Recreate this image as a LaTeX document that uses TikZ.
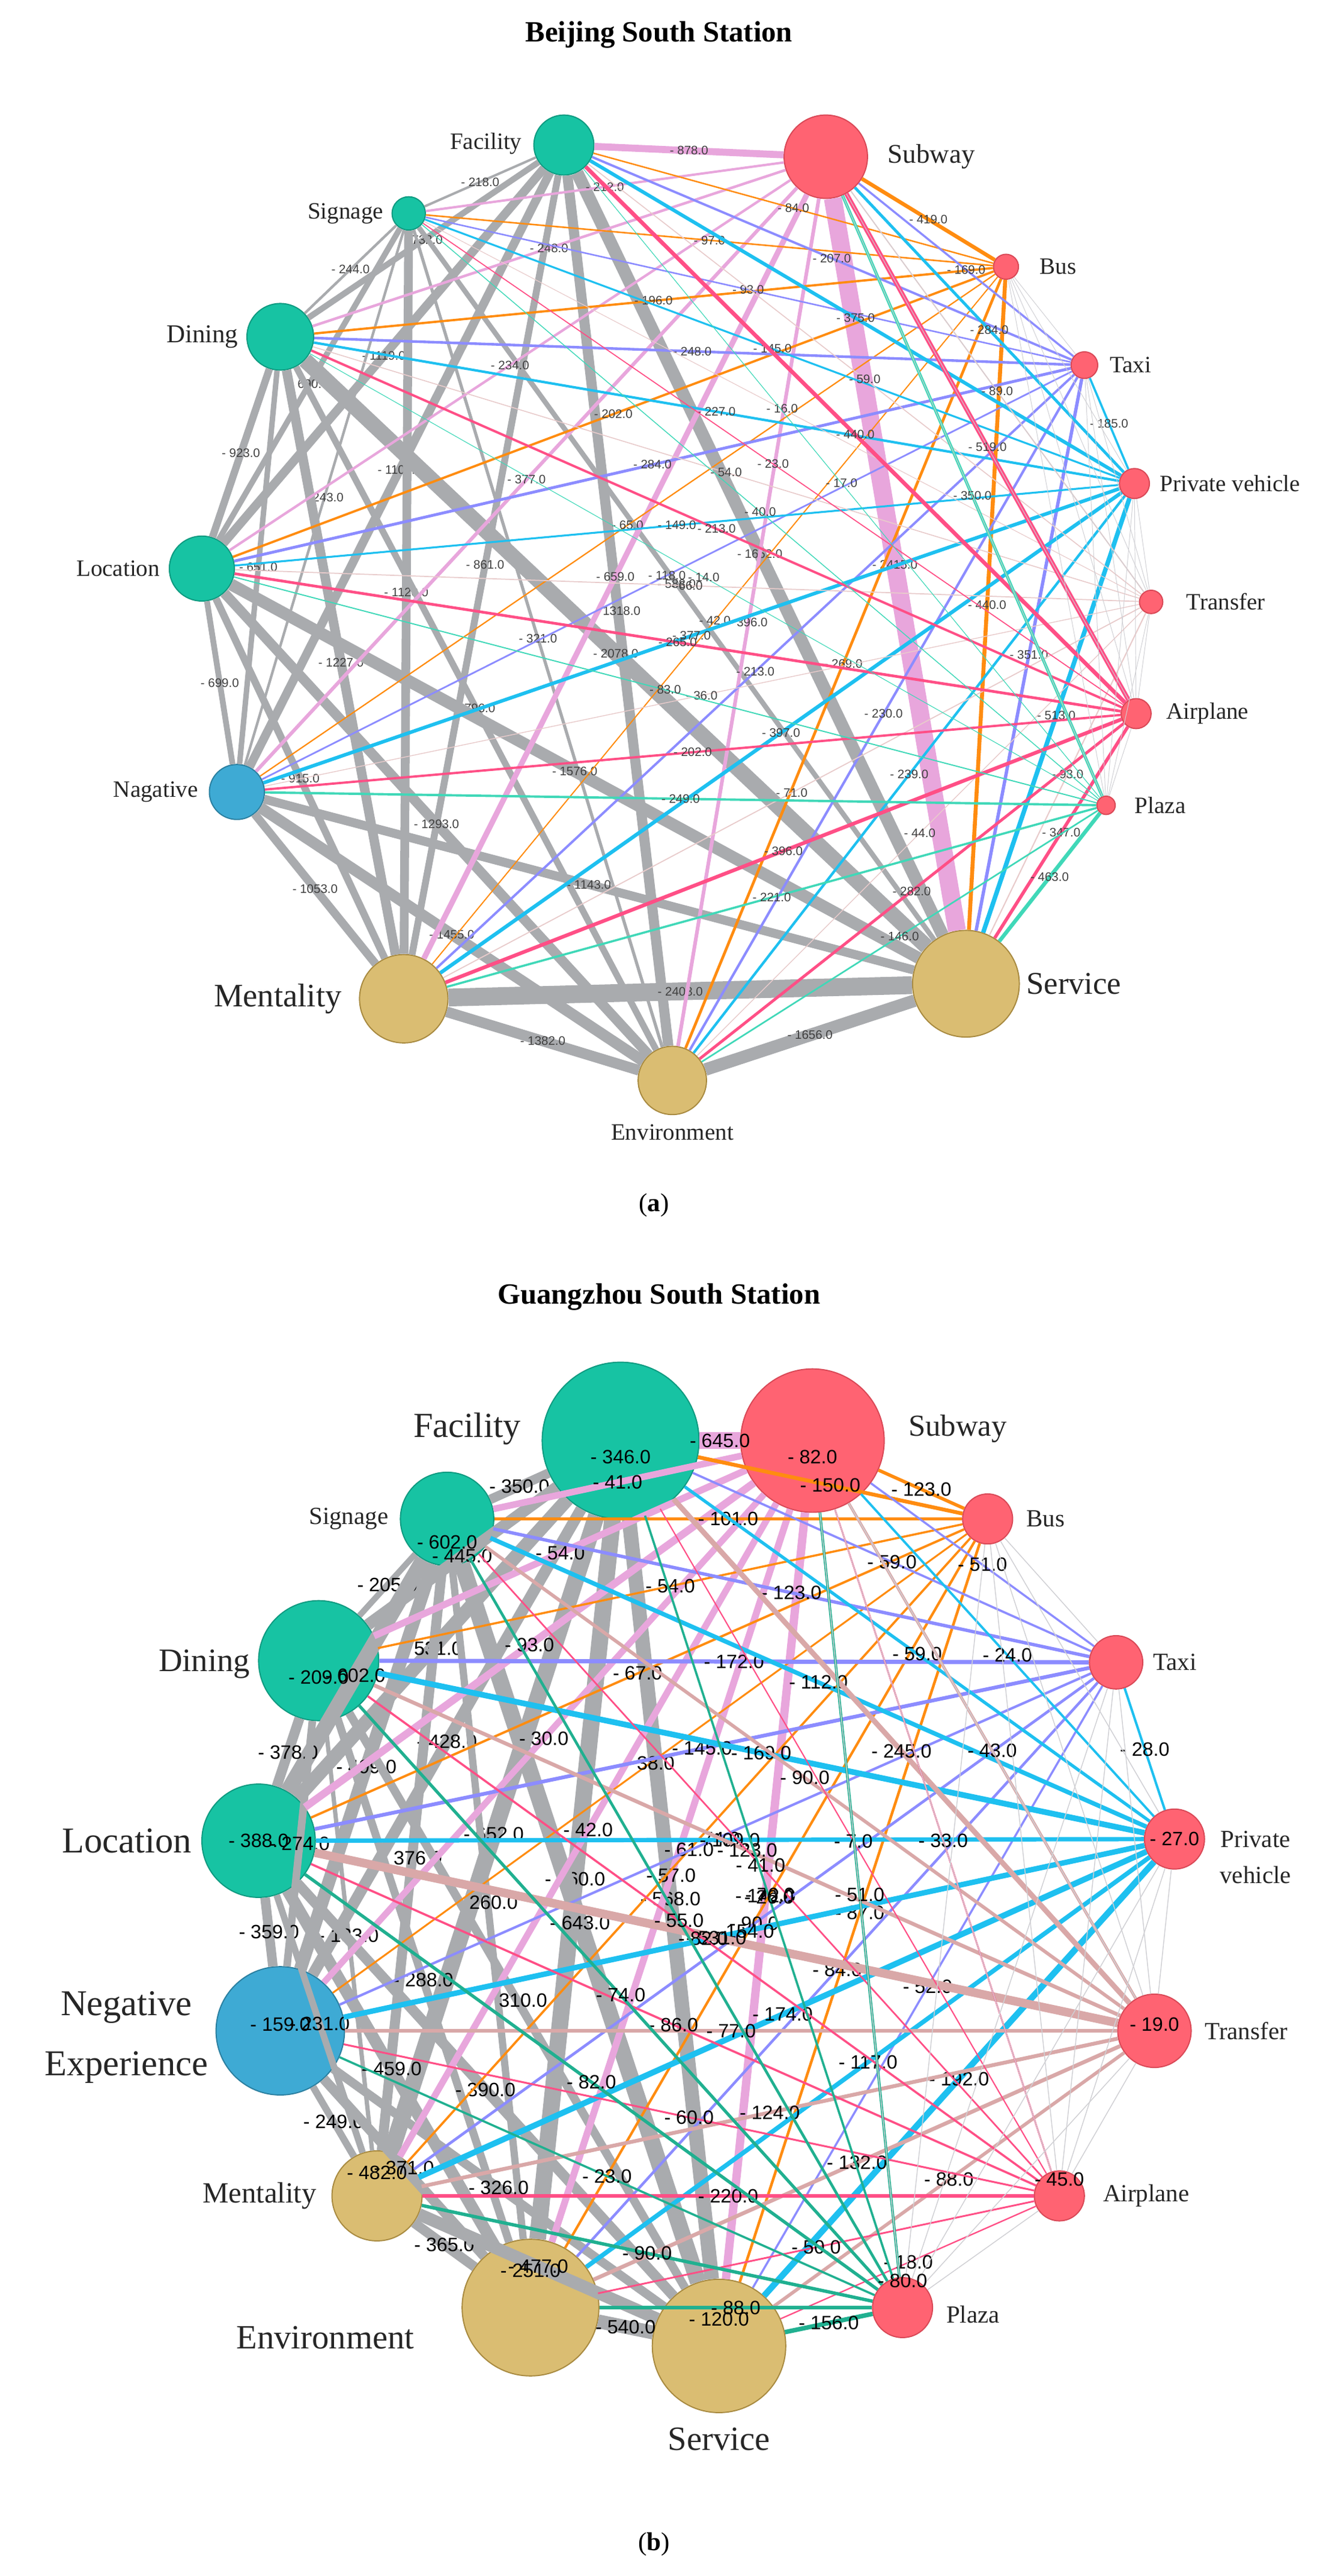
\documentclass[tikz,border=0pt]{standalone}
\usepackage{fontspec}
\setmainfont{Liberation Serif}
\newfontfamily\sansf{Liberation Sans}
\definecolor{grn}{HTML}{17C3A3}\definecolor{grnD}{HTML}{0E9A80}
\definecolor{rd}{HTML}{FF6372}\definecolor{rdD}{HTML}{D94856}
\definecolor{tanc}{HTML}{DABD72}\definecolor{tanD}{HTML}{A88A40}
\definecolor{blu}{HTML}{3EAAD4}\definecolor{bluD}{HTML}{2A7FA0}
\definecolor{eGray}{HTML}{A9ABAE}\definecolor{ePink}{HTML}{E8A6DC}
\definecolor{eOr}{HTML}{FF8C10}\definecolor{eVi}{HTML}{8C8CFF}
\definecolor{eCy}{HTML}{1EC0F0}\definecolor{eLg}{HTML}{D0D0D4}
\definecolor{eRd}{HTML}{FF4F86}\definecolor{eTe}{HTML}{40D8B8}
\definecolor{eTeB}{HTML}{20B090}\definecolor{eBr}{HTML}{D9A8A8}
\tikzset{
 nd/.style={circle,draw,line width=2pt,inner sep=0pt},
 gN/.style={nd,fill=grn,draw=grnD},rN/.style={nd,fill=rd,draw=rdD},
 tN/.style={nd,fill=tanc,draw=tanD},bN/.style={nd,fill=blu,draw=bluD},
 nlA/.style={font=\fontsize{40}{44}\selectfont,text=black!85},
 nlB/.style={font=\fontsize{58}{64}\selectfont,text=black!85,align=center},
 ttl/.style={font=\bfseries\fontsize{50}{58}\selectfont},
 labA/.style={font=\sansf\fontsize{21}{23}\selectfont,text=black!75,inner sep=1pt,pos=0.5},
 labBb/.style={font=\sansf\fontsize{33}{36}\selectfont,text=black,inner sep=1pt},
 labB/.style={labBb,pos=0.5},
}
\begin{document}
\begin{tikzpicture}[x=0.1cm,y=-0.1cm]
\useasboundingbox (0,0) rectangle (800,1545);
% ================= panel a
\node[ttl] (ta) at (395,21) {Beijing South Station};
\node[gN,minimum size=3.6cm] (aF) at (338,87) {};
\node[rN,minimum size=5cm] (aSub) at (495,94) {};
\node[gN,minimum size=2cm] (aSig) at (245,128) {};
\node[rN,minimum size=1.5cm] (aBus) at (603,160) {};
\node[gN,minimum size=4cm] (aDin) at (168,202) {};
\node[rN,minimum size=1.6cm] (aTx) at (650,219) {};
\node[gN,minimum size=3.9cm] (aLoc) at (121,341) {};
\node[rN,minimum size=1.8cm] (aPV) at (680,290) {};
\node[rN,minimum size=1.4cm] (aTr) at (690,361) {};
\node[rN,minimum size=1.8cm] (aAir) at (681,428) {};
\node[rN,minimum size=1.1cm] (aPl) at (663,483) {};
\node[bN,minimum size=3.3cm] (aNeg) at (142,475) {};
\node[tN,minimum size=5.3cm] (aMen) at (242,599) {};
\node[tN,minimum size=6.4cm] (aSer) at (579,590) {};
\node[tN,minimum size=4.1cm] (aEnv) at (403,648) {};
\foreach \a/\b/\w in {aF/aSig/218,aF/aDin/732,aSig/aDin/244,aF/aLoc/1119,aSig/aLoc/690,aDin/aLoc/923,aF/aNeg/1104,aSig/aNeg/243,aDin/aNeg/651,aLoc/aNeg/699,aF/aMen/861,aSig/aMen/1120,aDin/aMen/1227,aLoc/aMen/915,aNeg/aMen/1053,aF/aEnv/1318,aSig/aEnv/321,aDin/aEnv/796,aLoc/aEnv/1293,aNeg/aEnv/1455,aMen/aEnv/1382,aF/aSer/1662,aSig/aSer/588,aDin/aSer/2078,aLoc/aSer/1576,aNeg/aSer/1143,aMen/aSer/2408,aEnv/aSer/1656}
 {\draw[eGray,line width=\w*0.012pt+1.5pt] (\a) -- (\b) node[labA]{- \w.0};}
\foreach \t/\w in {aF/878,aSig/212,aDin/248,aLoc/234,aNeg/377,aMen/659,aEnv/396,aSer/2415}
 {\draw[ePink,line width=\w*0.012pt+1.5pt] (aSub) -- (\t) node[labA]{- \w.0};}
\foreach \t/\w in {aF/84,aSig/97,aDin/196,aLoc/202,aNeg/65,aMen/42,aEnv/269,aSer/440,aSub/419}
 {\draw[eOr,line width=\w*0.012pt+1.5pt] (aBus) -- (\t) node[labA]{- \w.0};}
\foreach \t/\w in {aF/207,aSig/93,aDin/248,aLoc/284,aNeg/118,aMen/213,aEnv/230,aSer/351,aSub/169}
 {\draw[eVi,line width=\w*0.012pt+1.5pt] (aTx) -- (\t) node[labA]{- \w.0};}
\foreach \t/\w in {aF/375,aSig/145,aDin/227,aLoc/149,aNeg/377,aMen/397,aEnv/239,aSer/513,aSub/284,aTx/185}
 {\draw[eCy,line width=\w*0.012pt+1.5pt] (aPV) -- (\t) node[labA]{- \w.0};}
\foreach \t/\w in {aF/59,aSig/16,aDin/54,aLoc/66,aNeg/36,aMen/71,aEnv/44,aSer/93,aSub/89}
 {\draw[eBr!60!white,line width=\w*0.012pt+1pt] (aTr) -- (\t) node[labA]{- \w.0};}
\foreach \t/\w in {aF/440,aSig/23,aDin/213,aLoc/265,aNeg/202,aMen/396,aEnv/282,aSer/347,aSub/519}
 {\draw[eRd,line width=\w*0.012pt+1.5pt] (aAir) -- (\t) node[labA]{- \w.0};}
\foreach \t/\w in {aF/17,aSig/40,aDin/14,aLoc/83,aNeg/249,aMen/221,aEnv/146,aSer/463,aSub/350}
 {\draw[eTe,line width=\w*0.012pt+1pt] (aPl) -- (\t) node[labA]{- \w.0};}
\foreach \a/\b in {aSub/aTr,aSub/aAir,aSub/aPl,aBus/aTx,aBus/aPV,aBus/aTr,aBus/aAir,aBus/aPl,aTx/aTr,aTx/aAir,aTx/aPl,aPV/aTr,aPV/aAir,aPV/aPl,aTr/aAir,aTr/aPl,aAir/aPl}
 {\draw[eLg,line width=1pt] (\a) -- (\b);}
\node[nlA,anchor=east] (laF) at (314,86) {Facility};
\node[nlA,anchor=west,font=\fontsize{46}{50}\selectfont] (laSub) at (531,94) {Subway};
\node[nlA,anchor=east] (laSig) at (231,128) {Signage};
\node[nlA,anchor=west] (laBus) at (622,160) {Bus};
\node[nlA,anchor=east,font=\fontsize{44}{48}\selectfont] (laDin) at (144,202) {Dining};
\node[nlA,anchor=west] (laTx) at (664,219) {Taxi};
\node[nlA,anchor=east] (laLoc) at (97,341) {Location};
\node[nlA,anchor=west] (laPV) at (694,290) {Private vehicle};
\node[nlA,anchor=west] (laTr) at (710,361) {Transfer};
\node[nlA,anchor=west] (laAir) at (698,428) {Airplane};
\node[nlA,anchor=west] (laPl) at (679,483) {Plaza};
\node[nlA,anchor=east] (laNeg) at (120,475) {Nagative};
\node[nlA,anchor=east,font=\fontsize{56}{60}\selectfont] (laMen) at (206,599) {Mentality};
\node[nlA,anchor=west,font=\fontsize{54}{58}\selectfont] (laSer) at (614,590) {Service};
\node[nlA] (laEnv) at (403,679) {Environment};
\node[font=\fontsize{44}{48}\selectfont] (pa) at (392,723) {(\textbf{a})};
% ================= panel b
\node[ttl] (tb) at (395,778) {Guangzhou South Station};
\node[gN,minimum size=9.4cm] (bF) at (372,864) {};
\node[rN,minimum size=8.6cm] (bSub) at (487,864) {};
\node[gN,minimum size=5.6cm] (bSig) at (268,911) {};
\node[rN,minimum size=3cm] (bBus) at (592,911) {};
\node[gN,minimum size=7.2cm] (bDin) at (191,996) {};
\node[rN,minimum size=3.2cm] (bTx) at (669,997) {};
\node[gN,minimum size=6.8cm] (bLoc) at (155,1104) {};
\node[rN,minimum size=3.6cm] (bPV) at (704,1103) {};
\node[bN,minimum size=7.7cm] (bNeg) at (168,1218) {};
\node[rN,minimum size=4.4cm] (bTr) at (692,1218) {};
\node[tN,minimum size=5.4cm] (bMen) at (226,1317) {};
\node[rN,minimum size=3cm] (bAir) at (635,1317) {};
\node[tN,minimum size=8.2cm] (bEnv) at (318,1384) {};
\node[tN,minimum size=8cm] (bSer) at (431,1407) {};
\node[rN,minimum size=3.6cm] (bPl) at (541,1384) {};
\foreach \a/\b/\w in {bF/bSig/350,bF/bDin/445,bF/bLoc/531,bF/bNeg/428,bF/bMen/652,bF/bEnv/660,bF/bSer/568,bSig/bDin/205,bSig/bLoc/602,bSig/bNeg/499,bSig/bMen/376,bSig/bEnv/260,bSig/bSer/643,bDin/bLoc/378,bDin/bNeg/274,bDin/bMen/133,bDin/bEnv/288,bDin/bSer/310,bLoc/bNeg/359,bLoc/bMen/231,bLoc/bEnv/459,bLoc/bSer/390,bNeg/bMen/249,bNeg/bEnv/371,bNeg/bSer/326,bMen/bEnv/365,bMen/bSer/477,bEnv/bSer/540}
 {\draw[eGray,line width=\w*0.04pt+2pt] (\a) -- (\b) node[labB]{- \w.0};}
\foreach \t/\w in {bF/645,bSig/41,bDin/54,bLoc/93,bNeg/30,bMen/42,bEnv/57,bSer/142}
 {\draw[ePink,line width=\w*0.03pt+10pt] (bSub) -- (\t) node[labB]{- \w.0};}
\foreach \t/\w in {bF/150,bSig/101,bDin/54,bLoc/67,bNeg/38,bMen/61,bEnv/76,bSer/87,bSub/123}
 {\draw[eOr,line width=\w*0.03pt+2pt] (bBus) -- (\t) node[labB]{- \w.0};}
\foreach \t/\w in {bF/59,bSig/123,bDin/172,bLoc/145,bNeg/74,bMen/90,bEnv/84,bSer/52,bSub/51}
 {\draw[eVi,line width=\w*0.03pt+2pt] (bTx) -- (\t) node[labB]{- \w.0};}
\foreach \t/\w in {bF/59,bSig/112,bDin/169,bLoc/109,bNeg/154,bMen/174,bEnv/117,bSer/192,bSub/24,bTx/28}
 {\draw[eCy,line width=\w*0.04pt+3pt] (bPV) -- (\t) node[labB]{- \w.0};}
\foreach \t/\w in {bF/245,bSig/90,bDin/123,bLoc/531,bNeg/77,bMen/124,bEnv/132,bSer/88,bSub/43}
 {\draw[eBr,line width=\w*0.02pt+4pt] (bTr) -- (\t) node[labB]{- \w.0};}
\foreach \t/\w in {bF/7,bSig/41,bDin/82,bLoc/86,bNeg/60,bMen/220,bEnv/50,bSer/18,bSub/33}
 {\draw[eRd,line width=\w*0.02pt+2pt] (bAir) -- (\t) node[labB]{- \w.0};}
\foreach \t/\w in {bF/26,bSig/55,bDin/74,bLoc/82,bNeg/23,bMen/90,bEnv/88,bSer/156,bSub/51}
 {\draw[eTeB,line width=\w*0.03pt+3pt] (bPl) -- (\t) node[labB]{- \w.0};}
\foreach \a/\b in {bSub/bTr,bSub/bAir,bSub/bPl,bBus/bTx,bBus/bPV,bBus/bTr,bBus/bAir,bBus/bPl,bTx/bTr,bTx/bAir,bTx/bPl,bPV/bTr,bPV/bAir,bPV/bPl,bTr/bAir,bTr/bPl,bAir/bPl}
 {\draw[eLg,line width=1.5pt] (\a) -- (\b);}
\foreach \n/\w/\dy in {bF/346/10,bSub/82/10,bSig/602/14,bDin/209/10,bLoc/388/0,bNeg/159/-4,bMen/482/-14,bEnv/251/-22,bSer/120/-16,bPV/27/0,bTr/19/-4,bAir/45/-10,bPl/80/-16}
 {\node[labBb] at ([yshift=-\dy*0.1cm]\n) {- \w.0};}
\node[nlB,font=\fontsize{60}{64}\selectfont] (lbF) at (280,857) {Facility};
\node[nlB,font=\fontsize{52}{56}\selectfont] (lbSub) at (574,857) {Subway};
\node[nlB,font=\fontsize{42}{46}\selectfont,anchor=east] (lbSig) at (234,911) {Signage};
\node[nlB,font=\fontsize{42}{46}\selectfont,anchor=west] (lbBus) at (614,911) {Bus};
\node[nlB,font=\fontsize{56}{60}\selectfont,anchor=east] (lbDin) at (151,998) {Dining};
\node[nlB,font=\fontsize{42}{46}\selectfont,anchor=west] (lbTx) at (690,997) {Taxi};
\node[nlB,font=\fontsize{62}{66}\selectfont,anchor=east] (lbLoc) at (116,1104) {Location};
\node[nlB,font=\fontsize{42}{62}\selectfont,anchor=west] (lbPV) at (730,1114) {Private\\vehicle};
\node[nlB,font=\fontsize{62}{102}\selectfont,anchor=east] (lbNeg) at (126,1222) {Negative\\Experience};
\node[nlB,font=\fontsize{42}{46}\selectfont,anchor=west] (lbTr) at (721,1218) {Transfer};
\node[nlB,font=\fontsize{50}{54}\selectfont,anchor=east] (lbMen) at (191,1317) {Mentality};
\node[nlB,font=\fontsize{42}{46}\selectfont,anchor=west] (lbAir) at (660,1317) {Airplane};
\node[nlB,font=\fontsize{58}{62}\selectfont] (lbEnv) at (195,1402) {Environment};
\node[nlB,font=\fontsize{42}{46}\selectfont,anchor=west] (lbPl) at (566,1388) {Plaza};
\node[nlB,font=\fontsize{58}{62}\selectfont] (lbSer) at (431,1463) {Service};
\node[font=\fontsize{44}{48}\selectfont] (pb) at (392,1526) {(\textbf{b})};
\end{tikzpicture}
\end{document}
